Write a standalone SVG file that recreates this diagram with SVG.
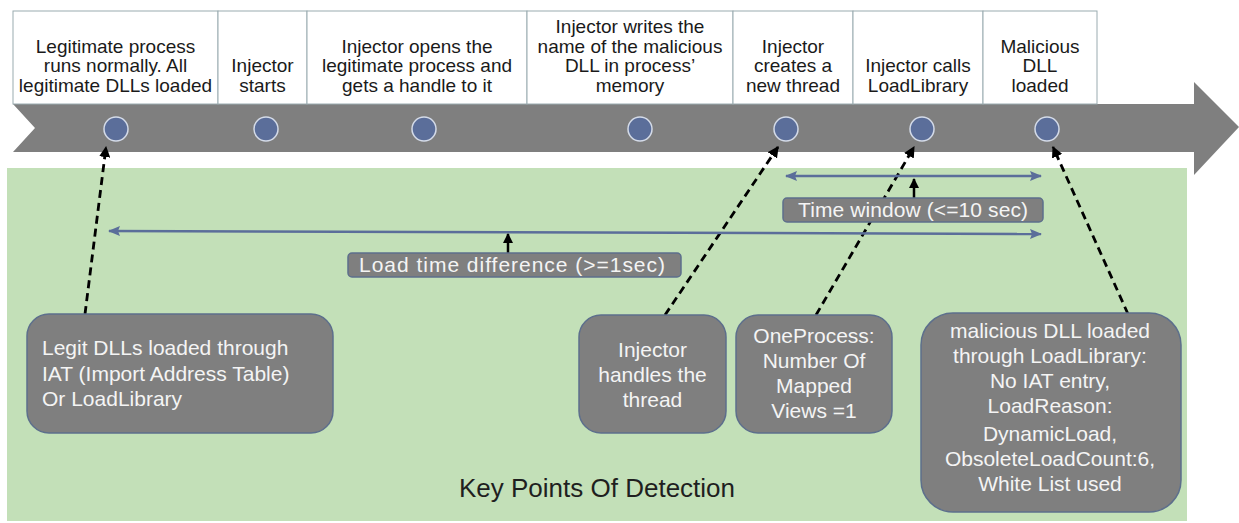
<svg xmlns="http://www.w3.org/2000/svg" width="1239" height="523" viewBox="0 0 1239 523">
<style>
.step{fill:#ffffff;stroke:#9aabb0;stroke-width:1}
.st{font-family:"Liberation Sans",Arial,sans-serif;font-size:19px;fill:#1a1a1a;text-anchor:middle}
.dot{fill:#5b6e9a;stroke:#d4dbe8;stroke-width:1.5}
.gbox{fill:#7f7f7f;stroke:#5d6f8c;stroke-width:1.5}
.gt{font-family:"Liberation Sans",Arial,sans-serif;font-size:21px;fill:#f4f4f4;text-anchor:middle}
.gtl{font-family:"Liberation Sans",Arial,sans-serif;font-size:21px;fill:#f4f4f4}
.dash{fill:none;stroke:#000;stroke-width:2.8;stroke-dasharray:8 5}
.blue{fill:none;stroke:#5b6e9a;stroke-width:2.5}
.up{fill:none;stroke:#000;stroke-width:2.5}
</style>
<defs>
<marker id="bk" viewBox="0 0 10 10" refX="9" refY="5" markerWidth="4" markerHeight="4" orient="auto" markerUnits="strokeWidth">
<path d="M0,0 L10,5 L0,10 z" fill="#000"/>
</marker>
<marker id="bl" viewBox="0 0 12 10" refX="11" refY="5" markerWidth="5" markerHeight="4" orient="auto-start-reverse" markerUnits="strokeWidth">
<path d="M0,0 L12,5 L0,10 L2,5 z" fill="#5b6e9a"/>
</marker>
</defs>

<rect id="panel" x="7" y="168" width="1180" height="353" fill="#c3e0b8"/>

<g id="timeline">
<polygon points="13,104 1194,104 1194,82 1239,127 1194,175 1194,152 13,152 35,128" fill="#7f7f7f"/>
</g>

<g id="step1">
<rect class="step" x="13" y="11" width="205" height="93"/>
<text class="st" x="115.5" y="52.5">Legitimate process</text>
<text class="st" x="115.5" y="72">runs normally. All</text>
<text class="st" x="115.5" y="91.5">legitimate DLLs loaded</text>
<circle class="dot" cx="116" cy="129" r="12"/>
</g>
<g id="step2">
<rect class="step" x="218" y="11" width="89" height="93"/>
<text class="st" x="262.5" y="72">Injector</text>
<text class="st" x="262.5" y="91.5">starts</text>
<circle class="dot" cx="266" cy="129" r="12"/>
</g>
<g id="step3">
<rect class="step" x="307" y="11" width="220" height="93"/>
<text class="st" x="417" y="52.5">Injector opens the</text>
<text class="st" x="417" y="72">legitimate process and</text>
<text class="st" x="417" y="91.5">gets a  handle to it</text>
<circle class="dot" cx="424" cy="129" r="12"/>
</g>
<g id="step4">
<rect class="step" x="527" y="11" width="206" height="93"/>
<text class="st" x="630" y="33">Injector writes the</text>
<text class="st" x="630" y="52.5">name of the malicious</text>
<text class="st" x="630" y="72">DLL in process’</text>
<text class="st" x="630" y="91.5">memory</text>
<circle class="dot" cx="640" cy="129" r="12"/>
</g>
<g id="step5">
<rect class="step" x="733" y="11" width="120" height="93"/>
<text class="st" x="793" y="52.5">Injector</text>
<text class="st" x="793" y="72">creates a</text>
<text class="st" x="793" y="91.5">new thread</text>
<circle class="dot" cx="786" cy="129" r="12"/>
</g>
<g id="step6">
<rect class="step" x="853" y="11" width="130" height="93"/>
<text class="st" x="918" y="72">Injector calls</text>
<text class="st" x="918" y="91.5">LoadLibrary</text>
<circle class="dot" cx="922" cy="129" r="12"/>
</g>
<g id="step7">
<rect class="step" x="983" y="11" width="114" height="93"/>
<text class="st" x="1040" y="52.5">Malicious</text>
<text class="st" x="1040" y="72">DLL</text>
<text class="st" x="1040" y="91.5">loaded</text>
<circle class="dot" cx="1047" cy="129" r="12"/>
</g>

<g id="connectors">
<line class="dash" x1="85" y1="314" x2="106" y2="147" marker-end="url(#bk)"/>
<line class="dash" x1="665" y1="315" x2="778" y2="147" marker-end="url(#bk)"/>
<line class="dash" x1="816" y1="315" x2="914" y2="147" marker-end="url(#bk)"/>
<line class="dash" x1="1128" y1="314" x2="1053" y2="147" marker-end="url(#bk)"/>
<line class="blue" x1="109" y1="231" x2="1041" y2="234" marker-start="url(#bl)" marker-end="url(#bl)"/>
<line class="blue" x1="786" y1="176" x2="1041" y2="176" marker-start="url(#bl)" marker-end="url(#bl)"/>
<line class="up" x1="508" y1="253" x2="508" y2="234" marker-end="url(#bk)"/>
<line class="up" x1="914" y1="198" x2="914" y2="179" marker-end="url(#bk)"/>
</g>

<g id="label-load">
<rect class="gbox" x="348" y="253" width="333" height="24" rx="4"/>
<text class="gtl" x="359" y="272" textLength="306" lengthAdjust="spacing">Load time difference (&gt;=1sec)</text>
</g>
<g id="label-window">
<rect class="gbox" x="783" y="198" width="260" height="24" rx="4"/>
<text class="gtl" x="798" y="217" textLength="230" lengthAdjust="spacing">Time window (&lt;=10 sec)</text>
</g>

<g id="kp-legit">
<rect class="gbox" x="27" y="314" width="306" height="119" rx="22"/>
<text class="gtl" x="42" y="355">Legit DLLs loaded through</text>
<text class="gtl" x="42" y="381">IAT  (Import Address Table)</text>
<text class="gtl" x="42" y="406">Or LoadLibrary</text>
</g>
<g id="kp-thread">
<rect class="gbox" x="579" y="315" width="147" height="118" rx="22"/>
<text class="gt" x="652.5" y="357">Injector</text>
<text class="gt" x="652.5" y="382">handles the</text>
<text class="gt" x="652.5" y="407">thread</text>
</g>
<g id="kp-views">
<rect class="gbox" x="736" y="315" width="156" height="118" rx="22"/>
<text class="gt" x="814" y="343">OneProcess:</text>
<text class="gt" x="814" y="368">Number  Of</text>
<text class="gt" x="814" y="393">Mapped</text>
<text class="gt" x="814" y="418">Views =1</text>
</g>
<g id="kp-malicious">
<rect class="gbox" x="921" y="313" width="260" height="199" rx="32"/>
<text class="gt" x="1050" y="338">malicious  DLL loaded</text>
<text class="gt" x="1050" y="363">through  LoadLibrary:</text>
<text class="gt" x="1050" y="388">No IAT  entry,</text>
<text class="gt" x="1050" y="413">LoadReason:</text>
<text class="gt" x="1050" y="441">DynamicLoad,</text>
<text class="gt" x="1050" y="466">ObsoleteLoadCount:6,</text>
<text class="gt" x="1050" y="491">White List used</text>
</g>

<text id="title" x="597" y="497" font-family="'Liberation Sans',Arial,sans-serif" font-size="26" fill="#1f1f1f" text-anchor="middle">Key Points Of Detection</text>
</svg>
